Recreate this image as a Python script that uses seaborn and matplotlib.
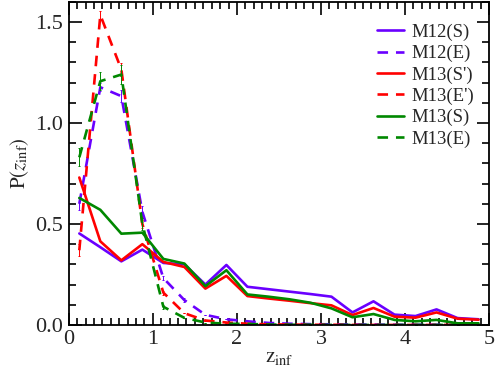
import numpy as np
import pandas as pd
import seaborn as sns
import matplotlib.pyplot as plt
from matplotlib.ticker import MultipleLocator

sns.set_style("ticks")
plt.rcParams['font.family'] = ['Liberation Serif', 'DejaVu Serif']
plt.rcParams['mathtext.fontset'] = 'stix'

# bin centres in z_inf
z_inf = [0.125, 0.375, 0.625, 0.875, 1.125, 1.375, 1.625, 1.875, 2.125, 2.375,
         2.625, 2.875, 3.125, 3.375, 3.625, 3.875, 4.125, 4.375, 4.625, 4.875]

m12_s = [0.453, 0.385, 0.315, 0.373, 0.307, 0.300, 0.200, 0.297, 0.189, 0.177,
         0.165, 0.153, 0.140, 0.062, 0.117, 0.051, 0.044, 0.077, 0.034, 0.028]
m12_e = [0.60, 1.177, 1.133, 0.56, 0.232, 0.123, 0.050, 0.028, 0.018, 0.010,
         0.006, 0.004, 0.003, 0.002, 0.002, 0.001, 0.001, 0.001, 0.0, 0.0]
m13_sp = [0.730, 0.414, 0.320, 0.400, 0.312, 0.287, 0.180, 0.243, 0.143, 0.131,
          0.120, 0.108, 0.097, 0.049, 0.084, 0.041, 0.036, 0.062, 0.031, 0.026]
m13_ep = [0.37, 1.535, 1.265, 0.50, 0.160, 0.058, 0.022, 0.012, 0.006, 0.003,
          0.002, 0.001, 0.001, 0.0, 0.0, 0.0, 0.0, 0.0, 0.0, 0.0]
m13_s = [0.629, 0.570, 0.452, 0.457, 0.327, 0.304, 0.192, 0.271, 0.151, 0.140,
         0.127, 0.110, 0.082, 0.038, 0.054, 0.025, 0.018, 0.025, 0.008, 0.008]
m13_e = [0.830, 1.207, 1.240, 0.50, 0.090, 0.035, 0.012, 0.006, 0.005, 0.002,
         0.001, 0.001, 0.0, 0.0, 0.0, 0.0, 0.0, 0.0, 0.0, 0.0]

# error bars on the E-type curves (only the first bins are visible)
m12_e_err = [0.03, 0.02, 0.03, 0.03, 0.01, 0.01, 0.0, 0.0, 0.0, 0.0,
             0.0, 0.0, 0.0, 0.0, 0.0, 0.0, 0.0, 0.0, 0.0, 0.0]
m13_ep_err = [0.03, 0.02, 0.03, 0.02, 0.01, 0.0, 0.0, 0.0, 0.0, 0.0,
              0.0, 0.0, 0.0, 0.0, 0.0, 0.0, 0.0, 0.0, 0.0, 0.0]
m13_e_err = [0.045, 0.045, 0.045, 0.03, 0.01, 0.0, 0.0, 0.0, 0.0, 0.0,
             0.0, 0.0, 0.0, 0.0, 0.0, 0.0, 0.0, 0.0, 0.0, 0.0]

blue = '#6a00ff'
red = '#ff0000'
green = '#008800'

series = [
    ('M12(S)', m12_s, None, blue, '-'),
    ('M12(E)', m12_e, m12_e_err, blue, '--'),
    ("M13(S')", m13_sp, None, red, '-'),
    ("M13(E')", m13_ep, m13_ep_err, red, '--'),
    ('M13(S)', m13_s, None, green, '-'),
    ('M13(E)', m13_e, m13_e_err, green, '--'),
]

fig = plt.figure(figsize=(4.95, 3.68), dpi=100)
ax = fig.add_axes([0.139, 0.117, 0.849, 0.878])

for name, vals, err, col, ls in series:
    sns.lineplot(x=z_inf, y=vals, ax=ax, color=col, linewidth=1.9, label=name)
    if ls == '--':
        ax.lines[-1].set_dashes([4, 3])
    if err is not None:
        ax.errorbar(z_inf, vals, yerr=err, fmt='none', ecolor=col,
                    elinewidth=0.7, capsize=1.0, capthick=0.7)

ax.set_xlim(0, 5)
ax.set_ylim(0, 1.6)
ax.xaxis.set_major_locator(MultipleLocator(1))
ax.xaxis.set_minor_locator(MultipleLocator(0.1))
ax.yaxis.set_major_locator(MultipleLocator(0.5))
ax.yaxis.set_minor_locator(MultipleLocator(0.1))
ax.yaxis.set_major_formatter(plt.FormatStrFormatter('%.1f'))
ax.tick_params(which='both', direction='in', top=True, right=True,
               labelsize=16, width=1.2, color='black')
ax.tick_params(which='major', length=9, pad=4)
ax.tick_params(which='minor', length=5)
for sp in ax.spines.values():
    sp.set_linewidth(1.3)
    sp.set_color('black')

ax.set_xlabel(r'$\mathrm{z_{inf}}$', fontsize=15, labelpad=-1)
ax.set_ylabel(r'$\mathrm{P}(z_{\mathrm{inf}})$', fontsize=15, labelpad=3)

leg = ax.legend(loc='upper right', bbox_to_anchor=(1.015, 1.0),
                frameon=False, fontsize=13.5,
                handlelength=1.4, handletextpad=0.4, labelspacing=0.22,
                borderaxespad=0.75)
for h in leg.get_lines():
    h.set_linewidth(1.9)

fig.savefig('out.png', dpi=100)
